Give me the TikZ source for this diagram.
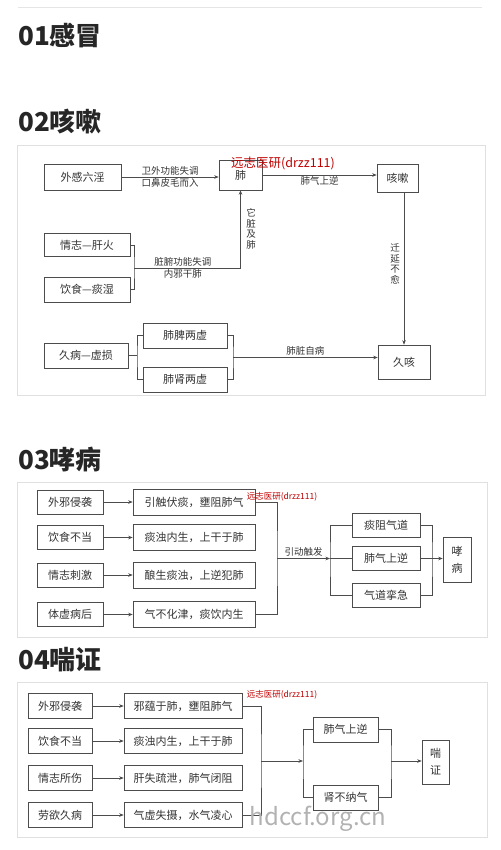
\documentclass[tikz,border=0pt]{standalone}
\usepackage{fontspec}
\newfontfamily\cjk{Noto Sans CJK SC}
\usetikzlibrary{arrows.meta}
\tikzset{
  box/.style={draw=black!70,line width=.6pt,inner sep=0pt,text=black!80,
    font=\cjk\fontsize{11}{17}\selectfont,align=center},
  lbl/.style={inner sep=1.5pt,text=black!80,font=\cjk\fontsize{9.5}{10.5}\selectfont},
  vlbl/.style={lbl,align=center,text width=9.5pt},
  head/.style={anchor=west,inner sep=0pt,text=black!85,
    font=\cjk\bfseries\fontsize{26}{28}\selectfont},
  panel/.style={draw=black!12,line width=.8pt},
  wire/.style={draw=black!70,line width=.6pt},
  arr/.style={wire,-{Stealth[length=4.5pt,width=3.5pt]}},
  wmark/.style={inner sep=0pt,text=red!75!black,font=\cjk\fontsize{8.5}{9}\selectfont},
}
\begin{document}
\begin{tikzpicture}[x=1pt,y=-1pt]
  \useasboundingbox (0,0) rectangle (500,850);
  \draw[black!10,line width=.8pt] (18,7) -- (482,7);
  \node[head] (h1) at (18,36) {01感冒};
  \node[head] (h2) at (18,122) {02咳嗽};
  \node[head] (h3) at (18,460) {03哮病};
  \node[head] (h4) at (18,660) {04喘证};

  \draw[panel] (17,145) rectangle (485,395);
  \node[box,minimum width=77pt,minimum height=26pt] (wg) at (82.5,177) {外感六淫};
  \node[box,minimum width=43pt,minimum height=30pt] (fei) at (240.5,175) {\raisebox{-5pt}{肺}};
  \node[box,minimum width=41pt,minimum height=28pt] (ks) at (397.5,178) {咳嗽};
  \node[box,minimum width=86pt,minimum height=23pt] (qz) at (87,245) {情志—肝火};
  \node[box,minimum width=86pt,minimum height=25pt] (ys) at (87,289.5) {饮食—痰湿};
  \node[box,minimum width=84pt,minimum height=25pt] (jb) at (86,355.5) {久病—虚损};
  \node[box,minimum width=84pt,minimum height=25pt] (fp) at (185,335.5) {肺脾两虚};
  \node[box,minimum width=84pt,minimum height=25pt] (fs) at (185,379.5) {肺肾两虚};
  \node[box,minimum width=52pt,minimum height=34pt] (jk) at (404,362) {久咳};
  \draw[arr] (wg.east) -- (wg.east -| fei.west)
    node[lbl,midway,above] {卫外功能失调} node[lbl,midway,below] {口鼻皮毛而入};
  \draw[arr] (fei.east) -- (fei.east -| ks.west) node[lbl,midway,below] {肺气上逆};
  \node[wmark,font=\cjk\fontsize{12.5}{13}\selectfont] (wm2) at (283,163) {远志医研(drzz111)};
  \coordinate (j1) at (134,268);
  \draw[wire] (qz.east) -| (j1) |- (ys.east);
  \draw[arr] (j1) -| (fei.south)
    node[lbl,pos=.23,above] {脏腑功能失调} node[lbl,pos=.23,below] {内邪干肺};
  \node[vlbl] (tz) at (251,229) {它\\脏\\及\\肺};
  \draw[arr] (jk.north |- ks.south) -- (jk.north);
  \node[vlbl] (qy) at (395,264) {迁\\延\\不\\愈};
  \coordinate (j2) at (137,355.5);
  \draw[wire] (jb.east) -- (j2);
  \draw[wire] (fp.west) -| (j2) |- (fs.west);
  \coordinate (j3) at (233,357.5);
  \draw[wire] (fp.east) -| (j3) |- (fs.east);
  \draw[arr] (j3) -- (j3 -| jk.west) node[lbl,midway,above] {肺脏自病};

  \draw[panel] (17,482) rectangle (487,637);
  \node[box,minimum width=66pt,minimum height=24pt] (a1) at (70,502) {外邪侵袭};
  \node[box,minimum width=66pt,minimum height=24pt] (a2) at (70,537.5) {饮食不当};
  \node[box,minimum width=66pt,minimum height=24pt] (a3) at (70,575) {情志刺激};
  \node[box,minimum width=66pt,minimum height=24pt] (a4) at (70,614.5) {体虚病后};
  \node[box,minimum width=122pt,minimum height=26pt] (b1) at (194,502) {引触伏痰，壅阻肺气};
  \node[box,minimum width=122pt,minimum height=26pt] (b2) at (194,537.5) {痰浊内生，上干于肺};
  \node[box,minimum width=122pt,minimum height=26pt] (b3) at (194,575) {酿生痰浊，上逆犯肺};
  \node[box,minimum width=122pt,minimum height=26pt] (b4) at (194,614.5) {气不化津，痰饮内生};
  \draw[arr] (a1) -- (b1);
  \draw[arr] (a2) -- (b2);
  \draw[arr] (a3) -- (b3);
  \draw[arr] (a4) -- (b4);
  \node[wmark] (wm3) at (282,497) {远志医研(drzz111)};
  \coordinate (m3) at (277,558.5);
  \draw[wire] (b1.east) -| (m3) |- (b4.east);
  \coordinate (k3) at (330,558.5);
  \draw[arr] (m3) -- (k3) node[lbl,midway,above] {引动触发};
  \node[box,minimum width=68pt,minimum height=24pt] (c1) at (386,525) {痰阻气道};
  \node[box,minimum width=68pt,minimum height=24pt] (c2) at (386,558.5) {肺气上逆};
  \node[box,minimum width=68pt,minimum height=24pt] (c3) at (386,595) {气道挛急};
  \draw[wire] (c1.west) -| (k3) |- (c3.west);
  \draw[wire] (k3) -- (c2.west);
  \coordinate (r3) at (432,558.5);
  \draw[wire] (c1.east) -| (r3) |- (c3.east);
  \draw[wire] (c2.east) -- (r3);
  \node[box,minimum width=28pt,minimum height=45pt] (xb) at (457,559.5) {哮\\病};
  \draw[arr] (r3) -- (r3 -| xb.west);

  \draw[panel] (17,682) rectangle (487,837);
  \node[box,minimum width=64pt,minimum height=25pt] (d1) at (60,706) {外邪侵袭};
  \node[box,minimum width=64pt,minimum height=25pt] (d2) at (60,741) {饮食不当};
  \node[box,minimum width=64pt,minimum height=25pt] (d3) at (60,778) {情志所伤};
  \node[box,minimum width=64pt,minimum height=25pt] (d4) at (60,815) {劳欲久病};
  \node[box,minimum width=118pt,minimum height=25pt] (e1) at (183,706) {邪蕴于肺，壅阻肺气};
  \node[box,minimum width=118pt,minimum height=25pt] (e2) at (183,741) {痰浊内生，上干于肺};
  \node[box,minimum width=118pt,minimum height=25pt] (e3) at (183,778) {肝失疏泄，肺气闭阻};
  \node[box,minimum width=118pt,minimum height=25pt] (e4) at (183,815) {气虚失摄，水气凌心};
  \draw[arr] (d1) -- (e1);
  \draw[arr] (d2) -- (e2);
  \draw[arr] (d3) -- (e3);
  \draw[arr] (d4) -- (e4);
  \node[wmark] (wm4) at (282,695) {远志医研(drzz111)};
  \coordinate (m4) at (261,761);
  \draw[wire] (e1.east) -| (m4) |- (e4.east);
  \coordinate (k4) at (303,761);
  \draw[arr] (m4) -- (k4);
  \node[box,minimum width=65pt,minimum height=25pt] (f1) at (345.5,729.5) {肺气上逆};
  \node[box,minimum width=65pt,minimum height=25pt] (f2) at (345.5,797.5) {肾不纳气};
  \draw[wire] (f1.west) -| (k4) |- (f2.west);
  \coordinate (r4) at (391,761);
  \draw[wire] (f1.east) -| (r4) |- (f2.east);
  \node[box,minimum width=27pt,minimum height=44pt] (cz) at (435.5,762) {喘\\证};
  \draw[arr] (r4) -- (r4 -| cz.west);
  \node[inner sep=0pt,text=black!30,font=\cjk\fontsize{24}{26}\selectfont] (url) at (318,819) {hdccf.org.cn};
\end{tikzpicture}
\end{document}
